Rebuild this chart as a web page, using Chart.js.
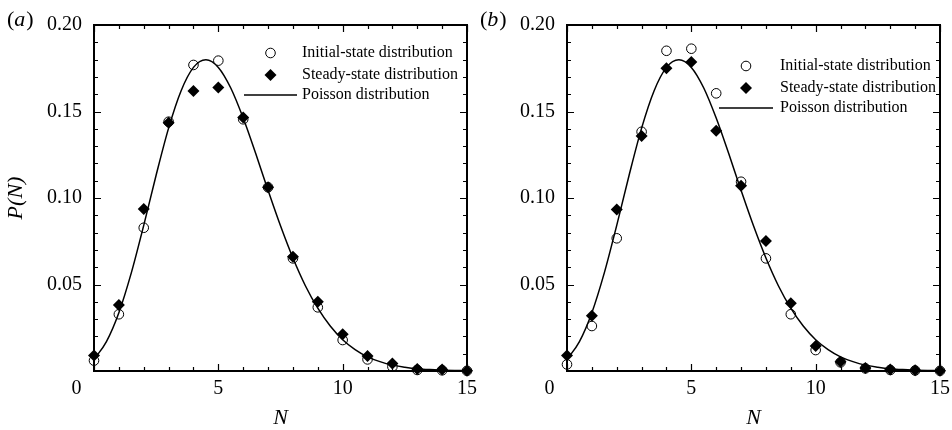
<!DOCTYPE html>
<html>
<head>
<meta charset="utf-8">
<script src="https://cdn.jsdelivr.net/npm/chart.js@4.4.1/dist/chart.umd.min.js"></script>
<style>
html,body{margin:0;padding:0;background:#fff;overflow:hidden}
#wrap{position:relative;width:952px;height:430px;background:#fff}
canvas{position:absolute;top:0}
#ca{left:0}
#cb{left:472px}
</style>
</head>
<body>
<div id="wrap">
<canvas id="ca" width="490" height="430"></canvas>
<canvas id="cb" width="480" height="430"></canvas>
</div>
<script>
// ---- data ----
const N = [0,1,2,3,4,5,6,7,8,9,10,11,12,13,14,15];
// panel (a)
const initialA = [0.0060,0.0328,0.0828,0.1441,0.1769,0.1794,0.1455,0.1062,0.0651,0.0368,0.0179,0.0067,0.0025,0.0006,0.0004,0.0001];
const steadyA  = [0.0089,0.0382,0.0936,0.1435,0.1618,0.1639,0.1466,0.1062,0.0661,0.0401,0.0212,0.0087,0.0044,0.0012,0.0008,0.0002];
// panel (b)
const initialB = [0.0038,0.0260,0.0767,0.1383,0.1851,0.1863,0.1605,0.1094,0.0651,0.0328,0.0121,0.0050,0.0015,0.0006,0.0003,0.0001];
const steadyB  = [0.0089,0.0320,0.0934,0.1358,0.1750,0.1786,0.1389,0.1071,0.0751,0.0391,0.0144,0.0054,0.0017,0.0008,0.0004,0.0002];
// Poisson curve, sampled along the drawn line
const curveN   = [0,0.5,1,1.5,2,2.5,3,3.5,4,4.5,5,5.5,6,6.5,7,7.5,8,8.5,9,9.5,10,10.5,11,11.5,12,12.5,13,13.5,14,14.5,15];
const poissonP = [0.0067,0.0170,0.0337,0.0567,0.0842,0.1133,0.1404,0.1619,0.1755,0.1799,0.1755,0.1636,0.1462,0.1258,0.1044,0.0839,0.0653,0.0493,0.0363,0.0260,0.0181,0.0124,0.0082,0.0054,0.0034,0.0022,0.0013,0.0008,0.0005,0.0003,0.0002];
// ticks and labels
const xTicks = [0,5,10,15];
const yTicks = [0.05,0.10,0.15,0.20];
const legendLabels = ['Initial-state distribution','Steady-state distribution','Poisson distribution'];
const panelLetters = ['a','b'];
const xTitle = 'N';
const yTitle = 'P(N)';

const SERIF = "'Liberation Serif','Times New Roman',serif";
Chart.defaults.font.family = SERIF;
Chart.defaults.color = '#000';

const frameTicks = {
  id: 'frameTicks',
  beforeDatasetsDraw(chart) {
    const {ctx, chartArea: a, scales: {x, y}} = chart;
    ctx.save();
    ctx.strokeStyle = '#000';
    ctx.lineWidth = 1.2;
    ctx.beginPath();
    for (let v = 0; v <= 15; v++) {
      const px = Math.round(x.getPixelForValue(v)) + 0.5;
      const len = v % 5 === 0 ? 7 : 4;
      ctx.moveTo(px, a.bottom); ctx.lineTo(px, a.bottom - len);
      ctx.moveTo(px, a.top); ctx.lineTo(px, a.top + len);
    }
    for (let i = 0; i <= 20; i++) {
      const py = Math.round(y.getPixelForValue(i / 100)) + 0.5;
      const len = i % 5 === 0 ? 7 : 4;
      ctx.moveTo(a.left, py); ctx.lineTo(a.left + len, py);
      ctx.moveTo(a.right, py); ctx.lineTo(a.right - len, py);
    }
    ctx.stroke();
    ctx.lineWidth = 2;
    ctx.strokeRect(a.left, a.top, a.right - a.left, a.bottom - a.top);
    ctx.restore();
  }
};

const panelLegend = {
  id: 'panelLegend',
  afterDraw(chart, args, o) {
    const ctx = chart.ctx;
    const ds = chart.data.datasets;
    ctx.save();
    ctx.font = '16px ' + SERIF;
    ctx.textBaseline = 'middle';
    ctx.textAlign = 'left';
    ctx.strokeStyle = '#000'; ctx.lineWidth = 1; ctx.fillStyle = 'rgba(0,0,0,0)';
    Chart.helpers.drawPoint(ctx, {pointStyle:'circle', radius:4.8, rotation:0, borderWidth:1}, o.markerX, o.rows[0]);
    ctx.fillStyle = '#000';
    Chart.helpers.drawPoint(ctx, {pointStyle:'rectRot', radius:6, rotation:0, borderWidth:0}, o.markerX, o.rows[1]);
    ctx.lineWidth = 1.5;
    ctx.beginPath(); ctx.moveTo(o.lineX1, o.rows[2]); ctx.lineTo(o.lineX2, o.rows[2]); ctx.stroke();
    ctx.fillStyle = '#000';
    ctx.fillText(ds[1].label, o.textX, o.rows[0]);
    ctx.fillText(ds[2].label, o.textX, o.rows[1]);
    ctx.fillText(ds[0].label, o.textX, o.rows[2]);
    ctx.restore();
  }
};

const panelLabel = {
  id: 'panelLabel',
  afterDraw(chart, args, o) {
    const ctx = chart.ctx;
    ctx.save();
    ctx.fillStyle = '#000';
    ctx.textBaseline = 'alphabetic';
    ctx.textAlign = 'left';
    let x = o.x;
    const yb = o.y;
    ctx.font = '22px ' + SERIF;
    ctx.fillText('(', x, yb); x += ctx.measureText('(').width;
    ctx.font = 'italic 22px ' + SERIF;
    ctx.fillText(o.text, x, yb); x += ctx.measureText(o.text).width + 1;
    ctx.font = '22px ' + SERIF;
    ctx.fillText(')', x, yb);
    ctx.restore();
  }
};

function makeChart(id, initial, steady, cfg) {
  return new Chart(document.getElementById(id), {
    type: 'scatter',
    data: {
      datasets: [
        {label: legendLabels[2], data: curveN.map((n, i) => ({x: n, y: poissonP[i]})), showLine: true,
         pointRadius: 0, borderColor: '#000', borderWidth: 1.5, cubicInterpolationMode: 'monotone', order: 3},
        {label: legendLabels[0], data: N.map((n, i) => ({x: n, y: initial[i]})), showLine: false,
         pointStyle: 'circle', pointRadius: 4.8, borderColor: '#000', backgroundColor: 'rgba(0,0,0,0)',
         pointBorderWidth: 1, clip: false, order: 2},
        {label: legendLabels[1], data: N.map((n, i) => ({x: n, y: steady[i]})), showLine: false,
         pointStyle: 'rectRot', pointRadius: 6, borderColor: '#000', backgroundColor: '#000',
         pointBorderWidth: 0, clip: false, order: 1}
      ]
    },
    options: {
      responsive: false, animation: false, devicePixelRatio: 1,
      layout: {padding: {top: 25, right: cfg.padRight, bottom: 0, left: 0}},
      plugins: {
        legend: {display: false}, tooltip: {enabled: false},
        panelLegend: cfg.legend,
        panelLabel: {text: cfg.letter, x: cfg.labelX, y: 26}
      },
      scales: {
        x: {
          type: 'linear', min: 0, max: 15,
          afterBuildTicks: s => { s.ticks = xTicks.map(v => ({value: v})); },
          afterFit: s => { s.height = 59; s.paddingLeft = 0; s.paddingRight = 0; },
          grid: {display: false, drawTicks: false}, border: {display: false},
          ticks: {font: {size: 20}, color: '#000', padding: 6, autoSkip: false, maxRotation: 0,
                  callback: v => v === 0 ? '0       ' : String(v)},
          title: {display: true, text: xTitle, color: '#000',
                  font: {size: 22, style: 'italic', lineHeight: 1}, padding: {top: 0, bottom: 1}}
        },
        y: {
          type: 'linear', min: 0, max: 0.2,
          afterBuildTicks: s => { s.ticks = yTicks.map(v => ({value: v})); },
          afterFit: s => { s.width = cfg.yWidth; s.paddingTop = 0; s.paddingBottom = 0; },
          grid: {display: false, drawTicks: false}, border: {display: false},
          ticks: {font: {size: 20}, color: '#000', padding: 12, callback: v => v.toFixed(2)},
          title: {display: cfg.showYTitle, text: yTitle, color: '#000',
                  font: {size: 22, style: 'italic', lineHeight: 1}, padding: {top: 5, bottom: 0}}
        }
      }
    },
    plugins: [frameTicks, panelLegend, panelLabel]
  });
}

makeChart('ca', initialA, steadyA, {
  padRight: 23, yWidth: 94, showYTitle: true, letter: panelLetters[0], labelX: 7,
  legend: {markerX: 270.5, textX: 302, rows: [53, 75, 95], lineX1: 244, lineX2: 297}
});
makeChart('cb', initialB, steadyB, {
  padRight: 12, yWidth: 95, showYTitle: false, letter: panelLetters[1], labelX: 8,
  legend: {markerX: 274, textX: 308, rows: [66, 88, 108], lineX1: 247, lineX2: 301}
});
</script>
</body>
</html>
